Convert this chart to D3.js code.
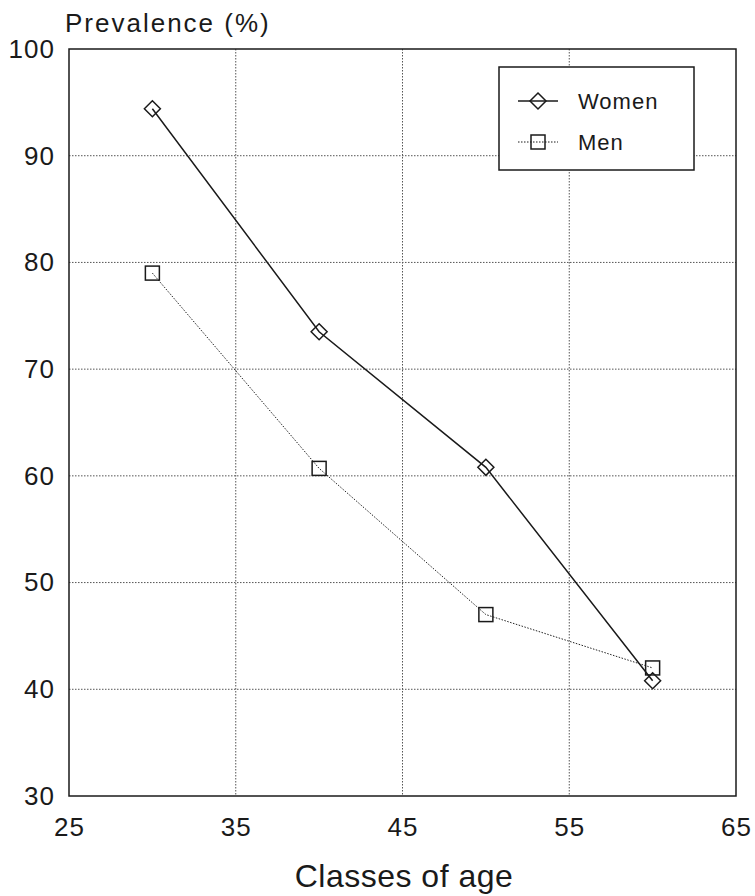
<!DOCTYPE html>
<html><head><meta charset="utf-8">
<script src="https://cdn.jsdelivr.net/npm/d3@7"></script>
<style>body{margin:0;background:#fff}</style>
</head><body>
<svg id="chart" width="755" height="896"></svg>
<script>
const ages = [30, 40, 50, 60];
const women = [94.4, 73.5, 60.8, 40.8];
const men = [79.0, 60.7, 47.0, 42.0];
const xTicks = [25, 35, 45, 55, 65];
const yTicks = [30, 40, 50, 60, 70, 80, 90, 100];
const seriesNames = ["Women", "Men"];

const svg = d3.select("#chart");
const font = "'Liberation Sans', Arial, sans-serif";
const ink = "#1a1a1a";
const L = 69, R = 736, T = 49, B = 796;
const x = d3.scaleLinear().domain([25, 65]).range([L, R]);
const y = d3.scaleLinear().domain([30, 100]).range([B, T]);

// grid
const g = svg.append("g");
g.selectAll(".vg").data(xTicks.slice(1, -1)).enter().append("line")
  .attr("x1", d => x(d)).attr("x2", d => x(d)).attr("y1", T).attr("y2", B)
  .attr("stroke", "#555").attr("stroke-width", 1).attr("stroke-dasharray", "1.5,1.5");
g.selectAll(".hg").data(yTicks.slice(1, -1)).enter().append("line")
  .attr("y1", d => y(d)).attr("y2", d => y(d)).attr("x1", L).attr("x2", R)
  .attr("stroke", "#555").attr("stroke-width", 1).attr("stroke-dasharray", "1.5,1.5");

// frame
svg.append("rect").attr("x", L).attr("y", T).attr("width", R - L).attr("height", B - T)
  .attr("fill", "none").attr("stroke", ink).attr("stroke-width", 1.5);

// axes labels
const xAxis = d3.axisBottom(x).tickValues(xTicks).tickSize(0).tickPadding(22);
const xa = svg.append("g").attr("transform", `translate(0,${B})`).call(xAxis);
xa.select(".domain").remove();
xa.selectAll("text").attr("font-family", font).attr("font-size", 26).attr("fill", ink)
  .attr("letter-spacing", 1);

const yAxis = d3.axisLeft(y).tickValues(yTicks).tickSize(0).tickPadding(14);
const ya = svg.append("g").attr("transform", `translate(${L},0)`).call(yAxis);
ya.select(".domain").remove();
ya.selectAll("text").attr("font-family", font).attr("font-size", 26).attr("fill", ink)
  .attr("letter-spacing", 1);

svg.append("text").attr("x", 65).attr("y", 32).attr("font-family", font).attr("font-size", 26)
  .attr("letter-spacing", 2).attr("fill", ink).text("Prevalence (%)");
svg.append("text").attr("x", 404).attr("y", 887).attr("text-anchor", "middle").attr("font-family", font)
  .attr("font-size", 32).attr("letter-spacing", 0.5).attr("fill", ink).text("Classes of age");

// lines
const line = d3.line().x(d => x(d[0])).y(d => y(d[1]));
const wData = ages.map((a, i) => [a, women[i]]);
const mData = ages.map((a, i) => [a, men[i]]);
svg.append("path").datum(mData).attr("d", line).attr("fill", "none")
  .attr("stroke", "#222").attr("stroke-width", 1).attr("stroke-dasharray", "1.5,1.5");
svg.append("path").datum(wData).attr("d", line).attr("fill", "none")
  .attr("stroke", ink).attr("stroke-width", 1.5);

function diamond(sel, cx, cy) {
  const s = 8;
  sel.append("path").attr("d", `M${cx},${cy - s}L${cx + s},${cy}L${cx},${cy + s}L${cx - s},${cy}Z`)
    .attr("fill", "none").attr("stroke", ink).attr("stroke-width", 1.5);
}
function square(sel, cx, cy) {
  const s = 7;
  sel.append("rect").attr("x", cx - s).attr("y", cy - s).attr("width", 2 * s).attr("height", 2 * s)
    .attr("fill", "none").attr("stroke", ink).attr("stroke-width", 1.5);
}
wData.forEach(d => diamond(svg, x(d[0]), y(d[1])));
mData.forEach(d => square(svg, x(d[0]), y(d[1])));

// legend
const lg = svg.append("g");
lg.append("rect").attr("x", 499).attr("y", 67).attr("width", 195).attr("height", 103)
  .attr("fill", "#fff").attr("stroke", ink).attr("stroke-width", 1.5);
const rows = [{name: seriesNames[0], yy: 101, dash: null}, {name: seriesNames[1], yy: 142, dash: "1.5,1.5"}];
rows.forEach((r, i) => {
  lg.append("line").attr("x1", 518).attr("x2", 558).attr("y1", r.yy).attr("y2", r.yy)
    .attr("stroke", ink).attr("stroke-width", i === 0 ? 1.5 : 1).attr("stroke-dasharray", r.dash);
  if (i === 0) diamond(lg, 538, r.yy); else square(lg, 538, r.yy);
  lg.append("text").attr("x", 578).attr("y", r.yy + 8).attr("font-family", font).attr("font-size", 22)
    .attr("letter-spacing", 1).attr("fill", ink).text(r.name);
});
</script>
</body></html>
